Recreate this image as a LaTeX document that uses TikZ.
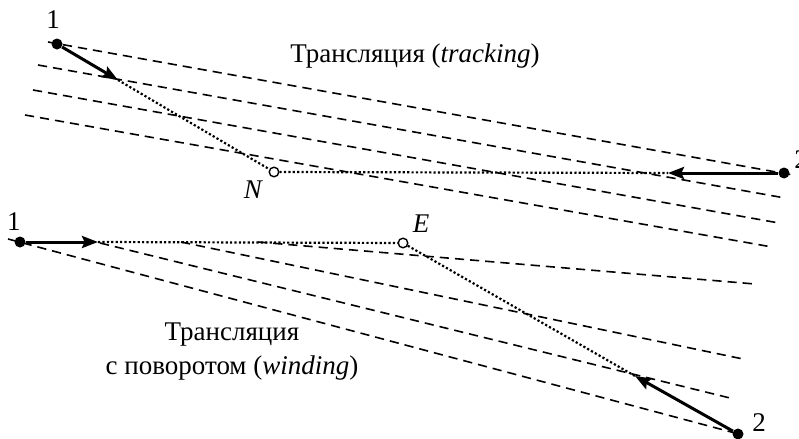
\documentclass[tikz,border=0pt]{standalone}
\usepackage{fontspec}
\setmainfont{Liberation Serif}
\usetikzlibrary{arrows.meta}
\begin{document}
\begin{tikzpicture}[x=0.5pt,y=-0.5pt,
  guide/.style={line width=0.8pt,dash pattern=on 4.6pt off 3pt},
  path/.style={line width=1.1pt,dash pattern=on 1.1pt off 1.1pt},
  move/.style={line width=1.5pt,-{Stealth[length=8pt,width=6pt,inset=1.3pt]}},
  pt/.style={circle,fill=black,inner sep=0pt,minimum size=5.5pt},
  opt/.style={circle,draw=black,fill=white,line width=0.7pt,inner sep=0pt,minimum size=4.8pt},
  lbl/.style={font=\fontsize{13.5}{16}\selectfont,inner sep=0pt}]
\useasboundingbox (0,0) rectangle (799,439);
% ---------- top panel (tracking) ----------
\coordinate (t1s) at (48,42);  \coordinate (t1e) at (793,175);
\coordinate (t2s) at (38,65);  \coordinate (t2e) at (785,198);
\coordinate (t3s) at (33,90);  \coordinate (t3e) at (779,223);
\coordinate (t4s) at (25,115); \coordinate (t4e) at (772,247);
\draw[guide] (t1s) -- (t1e);
\draw[guide] (t2s) -- (t2e);
\draw[guide] (t3s) -- (t3e);
\draw[guide] (t4s) -- (t4e);
\coordinate (ta) at (118,80);
\coordinate (tb) at (668,173);
\node[opt] (N) at (274,172) {};
\draw[path] (ta) -- (N) -- (tb);
\node[pt] (T1) at (57,44) {};
\node[pt] (T2) at (784,173) {};
\draw[move] (T1) -- (ta);
\draw[move] (T2) -- (tb);
\node[lbl] (T1l) at (53,20) {1};
\node[lbl] (T2l) at (801,160) {2};
\node[lbl] (Nl) at (253,190) {\itshape N};
\node[lbl] (ttl) at (415,56) {Трансляция (\textit{tracking})};
% ---------- bottom panel (winding) ----------
\coordinate (bAs) at (8,239);   \coordinate (bAe) at (735,433);
\coordinate (bBs) at (100,243); \coordinate (bBe) at (730,398);
\coordinate (bCs) at (181,242); \coordinate (bCe) at (743,359);
\coordinate (bDs) at (258,242); \coordinate (bDe) at (755,284);
\draw[guide] (bAs) -- (bAe);
\draw[guide] (bBs) -- (bBe);
\draw[guide] (bCs) -- (bCe);
\draw[guide] (bDs) -- (bDe);
\coordinate (ba) at (98,242);
\coordinate (bb) at (635,376);
\node[opt] (E) at (403,243) {};
\draw[path] (ba) -- (E) -- (bb);
\node[pt] (B1) at (20,242) {};
\node[pt] (B2) at (738,434) {};
\draw[move] (B1) -- (ba);
\draw[move] (B2) -- (bb);
\node[lbl] (B1l) at (14,222) {1};
\node[lbl] (B2l) at (759,423) {2};
\node[lbl] (El) at (421,224) {\itshape E};
\node[lbl,align=center] (btl) at (232,352) {Трансляция\\[1pt] с поворотом (\textit{winding})};
\end{tikzpicture}
\end{document}
